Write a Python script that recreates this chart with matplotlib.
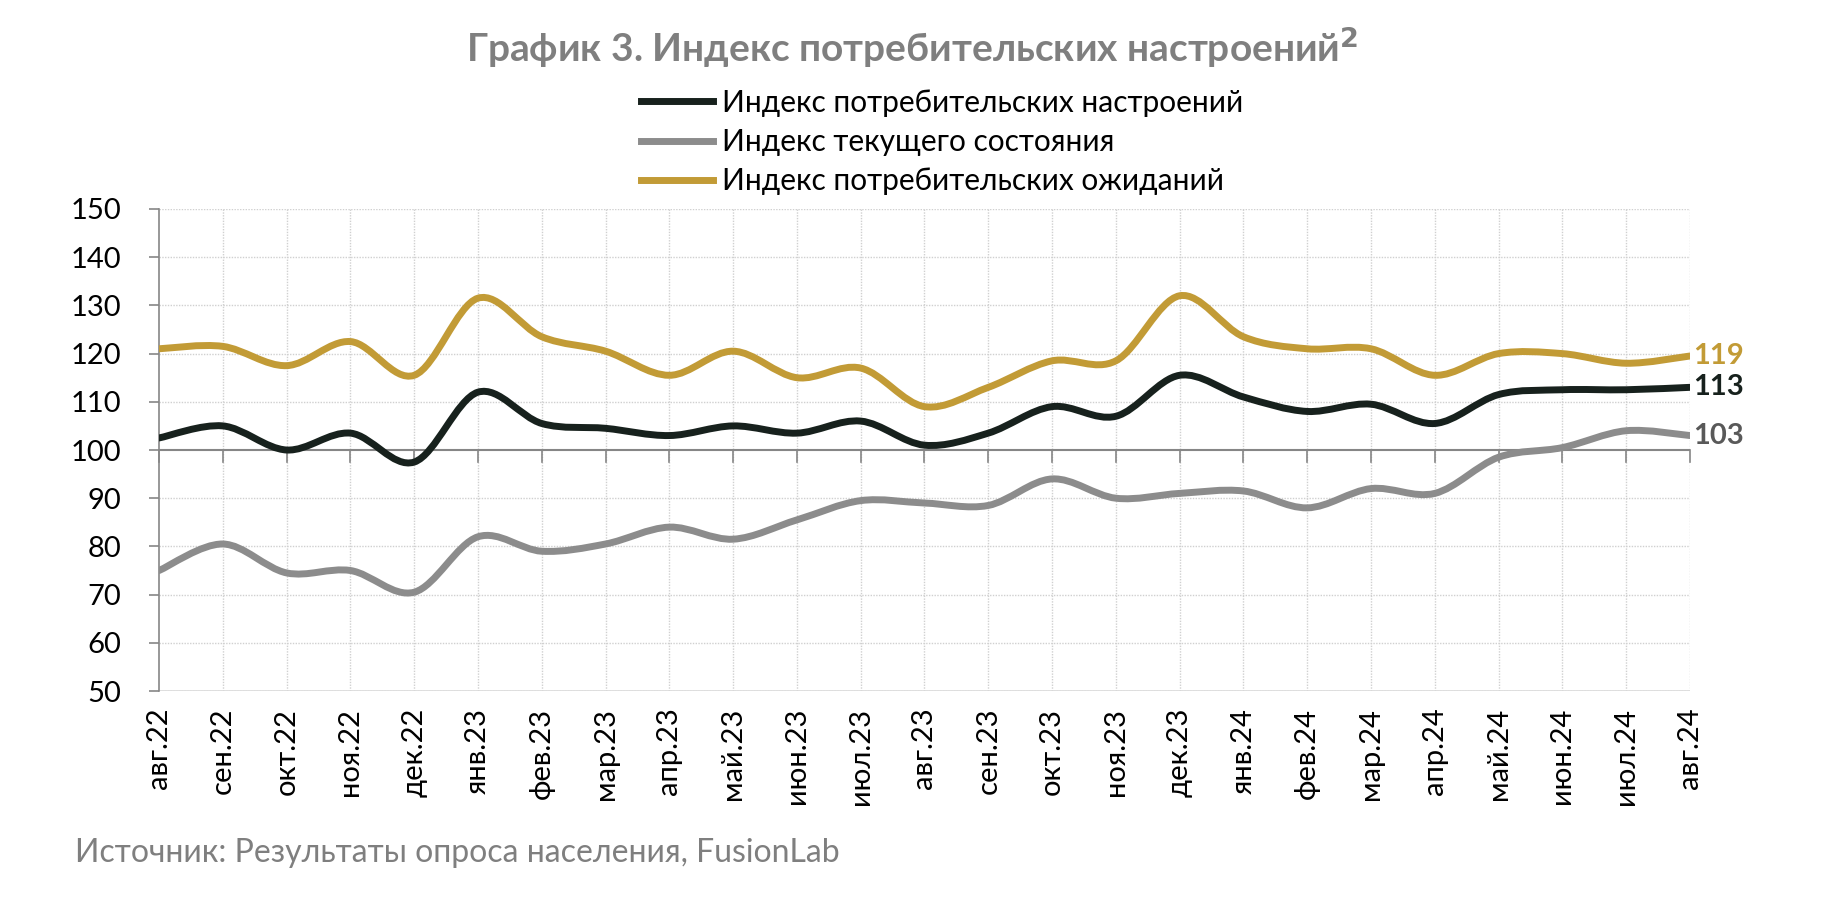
import matplotlib
matplotlib.use("Agg")
import matplotlib.pyplot as plt
from matplotlib.path import Path
from matplotlib.patches import PathPatch
from matplotlib.lines import Line2D
import numpy as np

plt.rcParams['font.family'] = ['Lato', 'DejaVu Sans']

months = ["авг.22", "сен.22", "окт.22", "ноя.22", "дек.22", "янв.23", "фев.23", "мар.23",
          "апр.23", "май.23", "июн.23", "июл.23", "авг.23", "сен.23", "окт.23", "ноя.23",
          "дек.23", "янв.24", "фев.24", "мар.24", "апр.24", "май.24", "июн.24", "июл.24", "авг.24"]

sentiment = [102.5, 105, 100, 103.5, 97.5, 112, 105.5, 104.5, 103, 105, 103.5, 106, 101,
             103.5, 109, 107, 115.5, 111, 108, 109.5, 105.5, 111.5, 112.5, 112.5, 113]
current = [75, 80.5, 74.5, 75, 70.5, 82, 79, 80.5, 84, 81.5, 85.5, 89.5, 89, 88.5, 94,
           90, 91, 91.5, 88, 92, 91, 98.5, 100.5, 104, 103]
expect = [121, 121.5, 117.5, 122.5, 115.5, 131.5, 123.5, 120.5, 115.5, 120.5, 115, 117,
          109, 113, 118.5, 118.5, 132, 123.5, 121, 121, 115.5, 120, 120, 118, 119.5]

series_names = ["Индекс потребительских настроений", "Индекс текущего состояния",
                "Индекс потребительских ожиданий"]
end_labels = ["113", "103", "119"]
yticks = [50, 60, 70, 80, 90, 100, 110, 120, 130, 140, 150]

colors = ["#17211d", "#8c8c8c", "#c29b36"]
label_colors = ["#17211d", "#595959", "#c29b36"]

fig = plt.figure(figsize=(18.24, 9.02), dpi=100)
ax = fig.add_axes([0.0872, 0.2339, 0.9265 - 0.0872, 0.7683 - 0.2339])

n = len(months)
x = np.arange(n)


def smooth_path(xs, ys):
    pts = np.column_stack([xs, ys]).astype(float)
    verts = [pts[0]]
    codes = [Path.MOVETO]
    m = len(pts)
    for i in range(m - 1):
        p0 = pts[i - 1] if i > 0 else pts[i]
        p1 = pts[i]
        p2 = pts[i + 1]
        p3 = pts[i + 2] if i + 2 < m else pts[i + 1]
        c1 = p1 + (p2 - p0) / 6.0
        c2 = p2 - (p3 - p1) / 6.0
        verts += [c1, c2, p2]
        codes += [Path.CURVE4] * 3
    return Path(verts, codes)


ax.set_xlim(0, n - 1)
ax.set_ylim(50, 150)

# grid
for yv in yticks:
    if yv != 100:
        ax.axhline(yv, color="#d0d0d0", lw=1.0, ls=(0, (1, 1)), zorder=0)
for xv in x[1:]:
    ax.axvline(xv, color="#d0d0d0", lw=1.0, ls=(0, (1, 1)), zorder=0)
ax.axhline(50, color="#d9d9d9", lw=1.2, zorder=1)
ax.axhline(100, color="#868686", lw=1.5, zorder=1)
for xv in x:
    ax.plot([xv, xv], [100, 97.6], color="#868686", lw=1.2, zorder=1, clip_on=False)

data = [sentiment, current, expect]
order = [1, 0, 2]
for idx in order:
    p = smooth_path(x, data[idx])
    ax.add_patch(PathPatch(p, fill=False, edgecolor=colors[idx], lw=5.0,
                           capstyle='round', joinstyle='round', zorder=3))

for idx in range(3):
    ax.text(n - 1 + 0.05, data[idx][-1], end_labels[idx], color=label_colors[idx],
            fontsize=21, fontweight='bold', ha='left', va='center')

for s in ["top", "right", "bottom"]:
    ax.spines[s].set_visible(False)
ax.spines["left"].set_color("#868686")
ax.spines["left"].set_linewidth(1.2)

ax.set_yticks(yticks)
ax.set_yticklabels([str(v) for v in yticks], fontsize=21)
ax.tick_params(axis='y', length=7, width=1.2, color="#868686", pad=20)
ax.set_xticks(x)
ax.set_xticklabels(months, rotation=90, fontsize=21, ha='center', va='top')
ax.tick_params(axis='x', length=0, pad=12)

fig.text(0.5, 0.948, r"График 3. Индекс потребительских настроений$^{\mathbf{2}}$",
         ha='center', va='center', fontsize=28, fontweight='bold', color="#7f7f7f")

handles = [Line2D([0], [0], color=colors[i], lw=5) for i in range(3)]
leg = fig.legend(handles, series_names, loc='upper left', bbox_to_anchor=(0.345, 0.915),
                 frameon=False, fontsize=21.5, handlelength=2.4, handletextpad=0.3,
                 labelspacing=0.38, borderaxespad=0)

fig.text(0.041, 0.054, "Источник: Результаты опроса населения, FusionLab",
         ha='left', va='center', fontsize=23, color="#7f7f7f")

fig.savefig("out.png", dpi=100)
